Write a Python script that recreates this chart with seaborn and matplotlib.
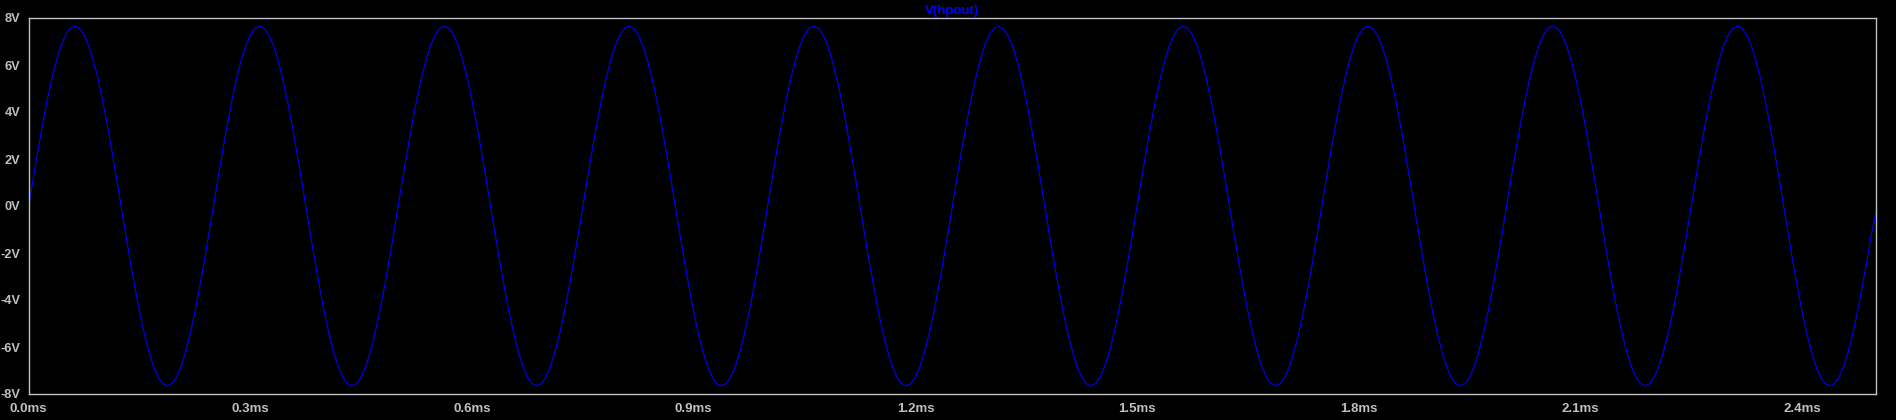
import numpy as np
import pandas as pd
import matplotlib
matplotlib.use("Agg")
import matplotlib.pyplot as plt
import seaborn as sns

# ---- data ----
T_STEP_MS = 0.00625  # sample spacing (ms)
V_HPOUT = [
    0.00, 1.20, 2.36, 3.47, 4.50, 5.41, 6.19, 6.82, 7.28, 7.56, 7.65, 7.56, 7.28, 6.82, 6.19, 5.41, 4.50, 3.47, 2.36, 1.20,
    0.00, -1.20, -2.36, -3.47, -4.50, -5.41, -6.19, -6.82, -7.28, -7.56, -7.65, -7.56, -7.28, -6.82, -6.19, -5.41, -4.50, -3.47, -2.36, -1.20,
    0.00, 1.20, 2.36, 3.47, 4.50, 5.41, 6.19, 6.82, 7.28, 7.56, 7.65, 7.56, 7.28, 6.82, 6.19, 5.41, 4.50, 3.47, 2.36, 1.20,
    0.00, -1.20, -2.36, -3.47, -4.50, -5.41, -6.19, -6.82, -7.28, -7.56, -7.65, -7.56, -7.28, -6.82, -6.19, -5.41, -4.50, -3.47, -2.36, -1.20,
    0.00, 1.20, 2.36, 3.47, 4.50, 5.41, 6.19, 6.82, 7.28, 7.56, 7.65, 7.56, 7.28, 6.82, 6.19, 5.41, 4.50, 3.47, 2.36, 1.20,
    0.00, -1.20, -2.36, -3.47, -4.50, -5.41, -6.19, -6.82, -7.28, -7.56, -7.65, -7.56, -7.28, -6.82, -6.19, -5.41, -4.50, -3.47, -2.36, -1.20,
    0.00, 1.20, 2.36, 3.47, 4.50, 5.41, 6.19, 6.82, 7.28, 7.56, 7.65, 7.56, 7.28, 6.82, 6.19, 5.41, 4.50, 3.47, 2.36, 1.20,
    0.00, -1.20, -2.36, -3.47, -4.50, -5.41, -6.19, -6.82, -7.28, -7.56, -7.65, -7.56, -7.28, -6.82, -6.19, -5.41, -4.50, -3.47, -2.36, -1.20,
    0.00, 1.20, 2.36, 3.47, 4.50, 5.41, 6.19, 6.82, 7.28, 7.56, 7.65, 7.56, 7.28, 6.82, 6.19, 5.41, 4.50, 3.47, 2.36, 1.20,
    0.00, -1.20, -2.36, -3.47, -4.50, -5.41, -6.19, -6.82, -7.28, -7.56, -7.65, -7.56, -7.28, -6.82, -6.19, -5.41, -4.50, -3.47, -2.36, -1.20,
    0.00, 1.20, 2.36, 3.47, 4.50, 5.41, 6.19, 6.82, 7.28, 7.56, 7.65, 7.56, 7.28, 6.82, 6.19, 5.41, 4.50, 3.47, 2.36, 1.20,
    0.00, -1.20, -2.36, -3.47, -4.50, -5.41, -6.19, -6.82, -7.28, -7.56, -7.65, -7.56, -7.28, -6.82, -6.19, -5.41, -4.50, -3.47, -2.36, -1.20,
    0.00, 1.20, 2.36, 3.47, 4.50, 5.41, 6.19, 6.82, 7.28, 7.56, 7.65, 7.56, 7.28, 6.82, 6.19, 5.41, 4.50, 3.47, 2.36, 1.20,
    0.00, -1.20, -2.36, -3.47, -4.50, -5.41, -6.19, -6.82, -7.28, -7.56, -7.65, -7.56, -7.28, -6.82, -6.19, -5.41, -4.50, -3.47, -2.36, -1.20,
    0.00, 1.20, 2.36, 3.47, 4.50, 5.41, 6.19, 6.82, 7.28, 7.56, 7.65, 7.56, 7.28, 6.82, 6.19, 5.41, 4.50, 3.47, 2.36, 1.20,
    0.00, -1.20, -2.36, -3.47, -4.50, -5.41, -6.19, -6.82, -7.28, -7.56, -7.65, -7.56, -7.28, -6.82, -6.19, -5.41, -4.50, -3.47, -2.36, -1.20,
    0.00, 1.20, 2.36, 3.47, 4.50, 5.41, 6.19, 6.82, 7.28, 7.56, 7.65, 7.56, 7.28, 6.82, 6.19, 5.41, 4.50, 3.47, 2.36, 1.20,
    0.00, -1.20, -2.36, -3.47, -4.50, -5.41, -6.19, -6.82, -7.28, -7.56, -7.65, -7.56, -7.28, -6.82, -6.19, -5.41, -4.50, -3.47, -2.36, -1.20,
    0.00, 1.20, 2.36, 3.47, 4.50, 5.41, 6.19, 6.82, 7.28, 7.56, 7.65, 7.56, 7.28, 6.82, 6.19, 5.41, 4.50, 3.47, 2.36, 1.20,
    0.00, -1.20, -2.36, -3.47, -4.50, -5.41, -6.19, -6.82, -7.28, -7.56, -7.65, -7.56, -7.28, -6.82, -6.19, -5.41, -4.50, -3.47, -2.36, -1.20,
    -0.27,
]
X_TICKS = [0.0, 0.3, 0.6, 0.9, 1.2, 1.5, 1.8, 2.1, 2.4]
X_TICK_LABELS = ["0.0ms", "0.3ms", "0.6ms", "0.9ms", "1.2ms", "1.5ms", "1.8ms", "2.1ms", "2.4ms"]
Y_TICKS = [8, 6, 4, 2, 0, -2, -4, -6, -8]
Y_TICK_LABELS = ["8V", "6V", "4V", "2V", "0V", "-2V", "-4V", "-6V", "-8V"]
TRACE_NAME = "V(hpout)"

df = pd.DataFrame({"t": np.arange(len(V_HPOUT)) * T_STEP_MS, "v": V_HPOUT})

sns.set_style("dark", {"axes.facecolor": "black", "figure.facecolor": "black"})
plt.rcParams["font.family"] = ["Liberation Sans", "DejaVu Sans"]

GRAY = "#c0c0c0"
fig = plt.figure(figsize=(18.96, 4.20), dpi=100, facecolor="black")
ax = fig.add_axes([28.7 / 1896, 1 - 394 / 420, (1876 - 28.7) / 1896, (394 - 18) / 420])
ax.set_facecolor("black")

sns.lineplot(data=df, x="t", y="v", ax=ax, color="#0000ff", linewidth=0.8, estimator=None, sort=False)

ax.set_xlim(0, 2.5)
ax.set_ylim(-8, 8)
ax.set_xticks(X_TICKS)
ax.set_xticklabels(X_TICK_LABELS)
ax.set_yticks(Y_TICKS)
ax.set_yticklabels(Y_TICK_LABELS)
ax.set_xlabel("")
ax.set_ylabel("")
ax.grid(False)
for s in ax.spines.values():
    s.set_visible(True)
    s.set_color(GRAY)
    s.set_linewidth(1.0)
ax.tick_params(axis="both", colors=GRAY, labelcolor=GRAY, width=1.0, direction="out")
ax.tick_params(axis="y", length=5.5, pad=0.5, labelsize=9.2)
ax.tick_params(axis="x", length=4.5, pad=2, labelsize=9.5)
for lab in ax.get_xticklabels() + ax.get_yticklabels():
    lab.set_fontweight("bold")

ax.set_title(TRACE_NAME, color="#0000ff", fontsize=9.5, fontweight="bold", pad=3)

fig.savefig("out.png", dpi=100, facecolor="black")
